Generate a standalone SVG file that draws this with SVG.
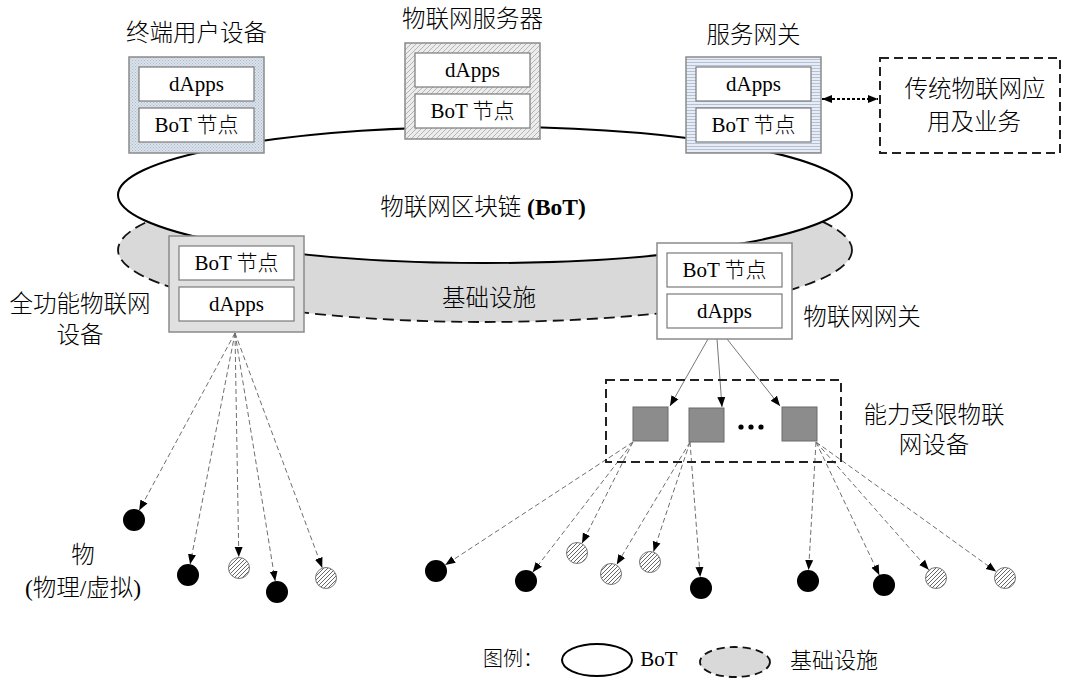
<svg xmlns="http://www.w3.org/2000/svg" width="1065" height="678" viewBox="0 0 1065 678">
<style>
text { font-family: "Liberation Serif", "Noto Sans CJK SC", serif; font-weight: 300; fill: #000; dominant-baseline: central; text-anchor: middle; }
.lbl { font-size: 23.5px; }
.in { font-size: 21px; }
.inner { fill: #fff; stroke: #7a7a7a; stroke-width: 1.2; }
.outer { stroke: #8a8a8a; stroke-width: 1.5; }
.dash { fill: none; stroke: #222; stroke-width: 2; stroke-dasharray: 9 5; }
.link { stroke: #6f6f6f; stroke-width: 1; fill: none; stroke-dasharray: 5 3; marker-end: url(#ah); }
.solid { stroke: #777; stroke-width: 1; fill: none; marker-end: url(#ah); }
.blk { fill: #000; }
.hat { fill: url(#hatch); stroke: #777; stroke-width: 1; }
.sq { fill: #8c8c8c; stroke: #6a6a6a; stroke-width: 1; }
</style>
<defs>
<marker id="ah" viewBox="0 0 10 10" refX="10" refY="5" markerWidth="10" markerHeight="10" markerUnits="userSpaceOnUse" orient="auto-start-reverse">
<path d="M0,1 L10,5 L0,9 z" fill="#000"/>
</marker>
<pattern id="pDot" width="3" height="3" patternUnits="userSpaceOnUse">
<rect width="3" height="3" fill="#dae2eb"/><rect width="1" height="1" fill="#aebbca"/><rect x="1.5" y="1.5" width="1" height="1" fill="#aebbca"/>
</pattern>
<pattern id="pDiag" width="5" height="5" patternUnits="userSpaceOnUse">
<rect width="5" height="5" fill="#ececec"/><path d="M-1,1 L1,-1 M0,5 L5,0 M4,6 L6,4" stroke="#b5b5b5" stroke-width="1"/>
</pattern>
<pattern id="pHor" width="4" height="3" patternUnits="userSpaceOnUse">
<rect width="4" height="3" fill="#e8edf5"/><rect y="2" width="4" height="1" fill="#b2c1d6"/>
</pattern>
<pattern id="hatch" width="4" height="4" patternUnits="userSpaceOnUse">
<rect width="4" height="4" fill="#fff"/><path d="M-1,1 L1,-1 M0,4 L4,0 M3,5 L5,3" stroke="#555" stroke-width="0.9"/>
</pattern>
</defs>
<rect width="1065" height="678" fill="#fff"/>

<g id="infra">
<ellipse cx="485" cy="250" rx="367" ry="72" fill="#d9d9d9" stroke="#111" stroke-width="1.8" stroke-dasharray="11 6"/>
</g>
<g id="bot">
<ellipse cx="485" cy="195" rx="367" ry="68" fill="#fff" stroke="#000" stroke-width="2"/>
<text class="lbl" x="483" y="207">物联网区块链 <tspan font-weight="bold">(BoT)</tspan></text>
</g>
<text id="infra-label" class="lbl" x="489" y="298">基础设施</text>

<g id="connectors">
<line x1="822" y1="99" x2="878" y2="99" stroke="#000" stroke-width="2" stroke-dasharray="3 2" marker-start="url(#ah)" marker-end="url(#ah)"/>
<line class="solid" x1="708" y1="339" x2="670" y2="406"/>
<line class="solid" x1="717" y1="339" x2="722" y2="407"/>
<line class="solid" x1="727" y1="339" x2="780" y2="406"/>
<line class="link" x1="235" y1="333" x2="139.2" y2="510.3"/>
<line class="link" x1="235" y1="333" x2="190.1" y2="564.2"/>
<line class="link" x1="235" y1="333" x2="238.8" y2="557"/>
<line class="link" x1="235" y1="333" x2="275.2" y2="581.1"/>
<line class="link" x1="235" y1="333" x2="322.2" y2="567.7"/>
<line class="link" x1="633" y1="442" x2="445.2" y2="565"/>
<line class="link" x1="633" y1="442" x2="532.7" y2="572.3"/>
<line class="link" x1="633" y1="442" x2="582" y2="543.2"/>
<line class="link" x1="690" y1="442" x2="616.7" y2="564.6"/>
<line class="link" x1="690" y1="442" x2="653.5" y2="551.6"/>
<line class="link" x1="690" y1="442" x2="700.2" y2="577"/>
<line class="link" x1="816" y1="442" x2="808.6" y2="570"/>
<line class="link" x1="816" y1="442" x2="879.3" y2="575.1"/>
<line class="link" x1="816" y1="442" x2="928.7" y2="569.8"/>
<line class="link" x1="816" y1="442" x2="996.1" y2="571.6"/>
</g>

<g id="end-user-device">
<text class="lbl" x="196.5" y="33">终端用户设备</text>
<rect class="outer" x="129" y="57" width="135" height="96" fill="url(#pDot)"/>
<rect class="inner" x="139" y="67" width="115" height="34"/>
<text class="in" x="196.5" y="84">dApps</text>
<rect class="inner" x="139" y="108" width="115" height="34"/>
<text class="in" x="196.5" y="125">BoT 节点</text>
</g>

<g id="iot-server">
<text class="lbl" x="472.5" y="19">物联网服务器</text>
<rect class="outer" x="405" y="43" width="135" height="96" fill="url(#pDiag)"/>
<rect class="inner" x="415" y="53" width="115" height="34"/>
<text class="in" x="472.5" y="70">dApps</text>
<rect class="inner" x="415" y="94" width="115" height="34"/>
<text class="in" x="472.5" y="111">BoT 节点</text>
</g>

<g id="service-gateway">
<text class="lbl" x="753.5" y="35">服务网关</text>
<rect class="outer" x="686" y="57" width="135" height="96" fill="url(#pHor)"/>
<rect class="inner" x="696" y="67" width="115" height="34"/>
<text class="in" x="753.5" y="84">dApps</text>
<rect class="inner" x="696" y="108" width="115" height="34"/>
<text class="in" x="753.5" y="125">BoT 节点</text>
</g>

<g id="legacy-apps">
<rect class="dash" x="880" y="58" width="180" height="95"/>
<text class="lbl" x="975" y="89">传统物联网应</text>
<text class="lbl" x="974" y="122">用及业务</text>
</g>

<g id="full-function-device">
<rect class="outer" x="169" y="236" width="135" height="96" fill="#e0e0e0"/>
<rect class="inner" x="179" y="246" width="115" height="34"/>
<text class="in" x="236.5" y="263">BoT 节点</text>
<rect class="inner" x="179" y="287" width="115" height="34"/>
<text class="in" x="236.5" y="304">dApps</text>
<text class="lbl" x="80" y="304">全功能物联网</text>
<text class="lbl" x="80" y="335">设备</text>
</g>

<g id="iot-gateway">
<rect class="outer" x="657" y="243" width="135" height="96" fill="#fff"/>
<rect class="inner" x="667" y="253" width="115" height="34"/>
<text class="in" x="724.5" y="270">BoT 节点</text>
<rect class="inner" x="667" y="294" width="115" height="34"/>
<text class="in" x="724.5" y="311">dApps</text>
<text class="lbl" x="862" y="317">物联网网关</text>
</g>

<g id="constrained-devices">
<rect class="dash" x="606" y="380" width="235" height="82"/>
<rect class="sq" x="633" y="407" width="35" height="34"/>
<rect class="sq" x="689" y="408" width="35" height="34"/>
<rect class="sq" x="782" y="407" width="35" height="34"/>
<circle cx="741" cy="427" r="2.6" class="blk"/>
<circle cx="751" cy="427" r="2.6" class="blk"/>
<circle cx="761" cy="427" r="2.6" class="blk"/>
<text class="lbl" x="934" y="415">能力受限物联</text>
<text class="lbl" x="934" y="445">网设备</text>
</g>

<g id="things">
<circle class="blk" cx="134" cy="520" r="11"/>
<circle class="blk" cx="188" cy="575" r="11"/>
<circle class="hat" cx="239" cy="568" r="10.5"/>
<circle class="blk" cx="277" cy="592" r="11"/>
<circle class="hat" cx="326" cy="578" r="10.5"/>
<circle class="blk" cx="436" cy="571" r="11"/>
<circle class="blk" cx="526" cy="581" r="11"/>
<circle class="hat" cx="577" cy="553" r="10.5"/>
<circle class="hat" cx="611" cy="574" r="10.5"/>
<circle class="hat" cx="650" cy="562" r="10.5"/>
<circle class="blk" cx="701" cy="588" r="11"/>
<circle class="blk" cx="808" cy="581" r="11"/>
<circle class="blk" cx="884" cy="585" r="11"/>
<circle class="hat" cx="936" cy="578" r="10.5"/>
<circle class="hat" cx="1005" cy="578" r="10.5"/>
<text class="lbl" x="83" y="555">物</text>
<text class="lbl" x="83" y="588">(物理/虚拟)</text>
</g>

<g id="legend">
<text x="513" y="659" font-size="20" font-weight="500">图例：</text>
<ellipse cx="597" cy="660" rx="35" ry="16" fill="#fff" stroke="#000" stroke-width="2"/>
<text x="659" y="659" font-size="21">BoT</text>
<ellipse cx="735" cy="662" rx="35" ry="15" fill="#d9d9d9" stroke="#111" stroke-width="1.8" stroke-dasharray="8 5"/>
<text x="834" y="660" font-size="22">基础设施</text>
</g>
</svg>
